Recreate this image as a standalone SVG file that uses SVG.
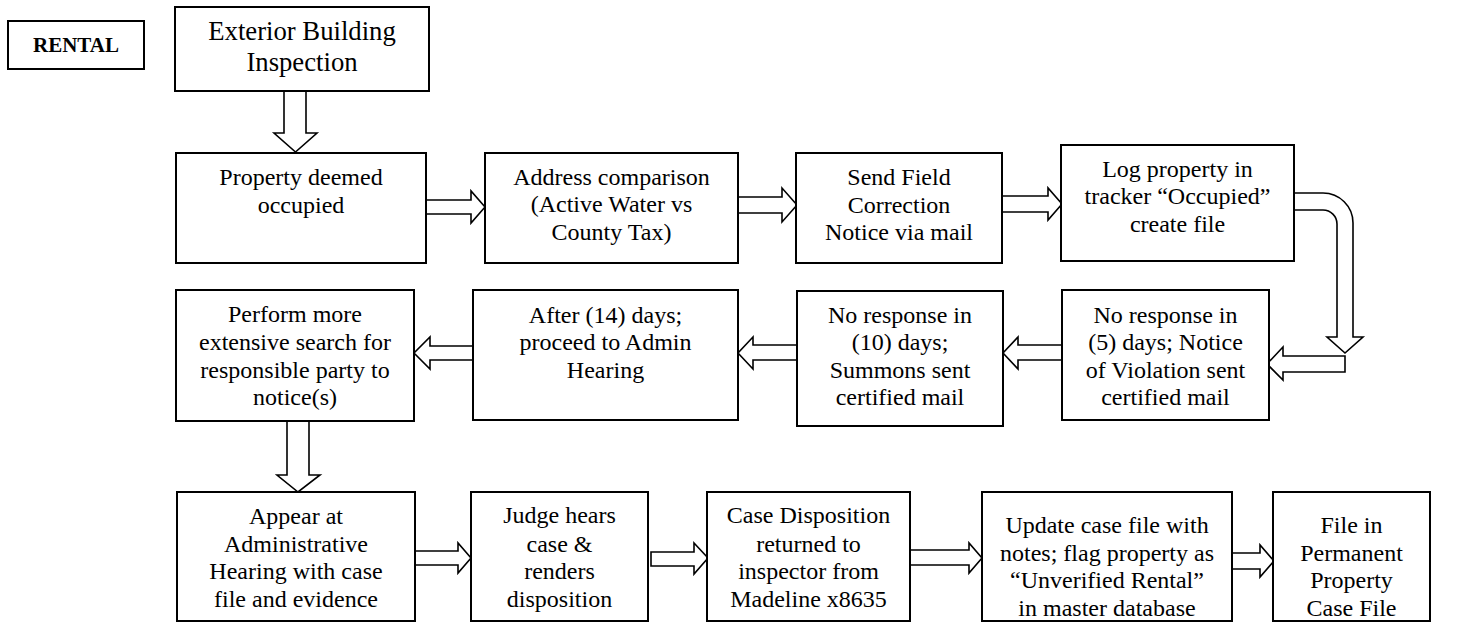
<svg xmlns="http://www.w3.org/2000/svg" width="1468" height="623" viewBox="0 0 1468 623">
<style>
.box{fill:#fff;stroke:#000;stroke-width:2}
.arr{fill:#fff;stroke:#000;stroke-width:1.6;stroke-linejoin:miter}
text{font-family:"Liberation Serif","Times New Roman",serif;font-size:24px;fill:#000;text-anchor:middle}
.big{font-size:26.7px}
.bold{font-weight:bold;font-size:21px}
</style>
<rect width="1468" height="623" fill="#fff"/>
<g id="connectors">
<path class="arr" d="M284,91 V133 H274 L295.5,152 L317,133 H306 V91 Z"/>
<path class="arr" d="M426,200 H471 V191 L485,207 L471,223 V214 H426 Z"/>
<path class="arr" d="M738,197 H782 V188 L797,205 L782,222 V213 H738 Z"/>
<path class="arr" d="M1002,196 H1048 V188 L1062,204 L1048,220 V212 H1002 Z"/>
<path class="arr" d="M1294,193 H1323 A30,30 0 0 1 1353,223 V337 H1363 L1345,353 L1327,337 H1337 V224 A14,14 0 0 0 1323,210 H1294 Z"/>
<path class="arr" d="M1345,356 V372 H1283 V380 L1267,364 L1283,347 V356 Z"/>
<path class="arr" d="M1062,345 H1018 V337 L1003,353 L1018,369 V360 H1062 Z"/>
<path class="arr" d="M797,345 H753 V337 L738,353 L753,369 V360 H797 Z"/>
<path class="arr" d="M473,346 H430 V337 L414,353 L430,369 V360 H473 Z"/>
<path class="arr" d="M287,421 V475 H277 L298,492 L320,475 H309 V421 Z"/>
<path class="arr" d="M415,551 H458 V543 L471,558 L458,573 V565 H415 Z"/>
<path class="arr" d="M651,552 H694 V543 L708,558 L694,574 V566 H651 Z"/>
<path class="arr" d="M910,550 H969 V543 L982,558 L969,573 V565 H910 Z"/>
<path class="arr" d="M1232,553 H1260 V545 L1274,561 L1260,577 V569 H1232 Z"/>
</g>
<g id="rental"><rect class="box" x="8" y="21" width="136" height="48"/><text class="bold" x="76" y="52">RENTAL</text></g>
<g id="exterior"><rect class="box" x="175" y="7" width="254" height="84"/><text class="big" x="302" y="40">Exterior Building</text><text class="big" x="302" y="71">Inspection</text></g>
<g id="property"><rect class="box" x="176" y="153" width="250" height="110"/><text x="301" y="185">Property deemed</text><text x="301" y="213">occupied</text></g>
<g id="address"><rect class="box" x="485" y="153" width="253" height="110"/><text x="611.5" y="185">Address comparison</text><text x="611.5" y="212">(Active Water vs</text><text x="611.5" y="240">County Tax)</text></g>
<g id="send"><rect class="box" x="796" y="153" width="206" height="110"/><text x="899" y="185">Send Field</text><text x="899" y="213">Correction</text><text x="899" y="240">Notice via mail</text></g>
<g id="log"><rect class="box" x="1061" y="145" width="233" height="116"/><text x="1177.5" y="177">Log property in</text><text x="1177.5" y="204">tracker “Occupied”</text><text x="1177.5" y="232">create file</text></g>
<g id="noresp5"><rect class="box" x="1062" y="290" width="207" height="130"/><text x="1165.5" y="323">No response in</text><text x="1165.5" y="350">(5) days; Notice</text><text x="1165.5" y="378">of Violation sent</text><text x="1165.5" y="405">certified mail</text></g>
<g id="noresp10"><rect class="box" x="797" y="291" width="206" height="135"/><text x="900" y="323">No response in</text><text x="900" y="350">(10) days;</text><text x="900" y="378">Summons sent</text><text x="900" y="405">certified mail</text></g>
<g id="after14"><rect class="box" x="473" y="290" width="265" height="130"/><text x="605.5" y="323">After (14) days;</text><text x="605.5" y="350">proceed to Admin</text><text x="605.5" y="378">Hearing</text></g>
<g id="perform"><rect class="box" x="176" y="290" width="238" height="131"/><text x="295" y="322">Perform more</text><text x="295" y="350">extensive search for</text><text x="295" y="378">responsible party to</text><text x="295" y="405">notice(s)</text></g>
<g id="appear"><rect class="box" x="177" y="492" width="238" height="129"/><text x="296" y="524">Appear at</text><text x="296" y="552">Administrative</text><text x="296" y="579">Hearing with case</text><text x="296" y="607">file and evidence</text></g>
<g id="judge"><rect class="box" x="471" y="492" width="177" height="129"/><text x="559.5" y="523">Judge hears</text><text x="559.5" y="552">case &amp;</text><text x="559.5" y="579">renders</text><text x="559.5" y="607">disposition</text></g>
<g id="disposition"><rect class="box" x="707" y="492" width="203" height="129"/><text x="808.5" y="523">Case Disposition</text><text x="808.5" y="552">returned to</text><text x="808.5" y="579">inspector from</text><text x="808.5" y="607">Madeline x8635</text></g>
<g id="update"><rect class="box" x="982" y="492" width="250" height="129"/><text x="1107" y="533">Update case file with</text><text x="1107" y="561">notes; flag property as</text><text x="1107" y="588">“Unverified Rental”</text><text x="1107" y="616">in master database</text></g>
<g id="permanent"><rect class="box" x="1273" y="492" width="157" height="129"/><text x="1351.5" y="533">File in</text><text x="1351.5" y="561">Permanent</text><text x="1351.5" y="588">Property</text><text x="1351.5" y="616">Case File</text></g>
</svg>
